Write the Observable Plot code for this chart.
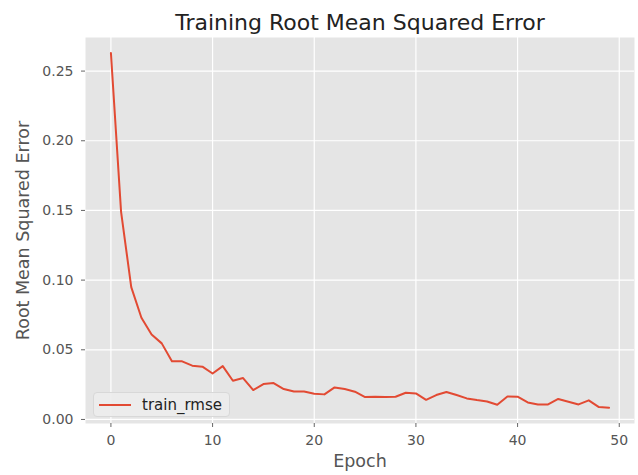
<!DOCTYPE html>
<html>
<head>
<meta charset="utf-8">
<script src="https://cdn.jsdelivr.net/npm/d3@7"></script>
<script src="https://cdn.jsdelivr.net/npm/@observablehq/plot@0.6"></script>
<style>
  html, body { margin: 0; padding: 0; background: #fff; }
  #wrap { position: relative; width: 638px; height: 475px; font-family: "DejaVu Sans", sans-serif; }
  #legend { position: absolute; left: 93px; top: 392px; width: 137px; height: 25px;
    background: rgba(236,236,236,0.9); border: 1px solid #d8d8d8; border-radius: 4px;
    box-sizing: border-box; display: flex; align-items: center; }
  #legend svg { margin-left: 5px; }
  #legend span { margin-left: 11px; font-size: 15px; color: #222; }
</style>
</head>
<body>
<div id="wrap"></div>
<script>
const title = "Training Root Mean Squared Error";
const xLabel = "Epoch";
const yLabel = "Root Mean Squared Error";
const seriesName = "train_rmse";
const epochs = d3.range(50);
const trainRmse = [
  0.263, 0.149, 0.095, 0.073, 0.061, 0.0546, 0.0417, 0.0417, 0.0386, 0.0379,
  0.033, 0.0383, 0.0278, 0.0297, 0.0211, 0.0254, 0.0261, 0.0218, 0.0201, 0.0201,
  0.0184, 0.018, 0.023, 0.0218, 0.0199, 0.0161, 0.0163, 0.0161, 0.0163, 0.0192,
  0.0187, 0.0141, 0.0175, 0.0197, 0.0175, 0.0151, 0.0139, 0.0129, 0.0106, 0.0165,
  0.0163, 0.0122, 0.0108, 0.0108, 0.0147, 0.0127, 0.0108, 0.0137, 0.0089, 0.0084
];
const xTicks = [0, 10, 20, 30, 40, 50];
const yTicks = [0.00, 0.05, 0.10, 0.15, 0.20, 0.25];

const data = epochs.map((e, i) => ({epoch: e, rmse: trainRmse[i]}));

const chart = Plot.plot({
  width: 638,
  height: 475,
  marginLeft: 85,
  marginRight: 4,
  marginTop: 37,
  marginBottom: 52,
  style: {fontFamily: "DejaVu Sans, sans-serif", background: "#fff", color: "#555", fontSize: "14px"},
  x: {domain: [-2.5, 51.5], ticks: xTicks, tickFormat: d3.format("d")},
  y: {domain: [-0.0029, 0.2741], ticks: yTicks, tickFormat: d3.format(".2f")},
  marks: [
    Plot.frame({fill: "#e5e5e5", stroke: null}),
    Plot.gridX(xTicks, {stroke: "#fff", strokeOpacity: 1, strokeWidth: 1.2}),
    Plot.gridY(yTicks, {stroke: "#fff", strokeOpacity: 1, strokeWidth: 1.2}),
    Plot.axisX(xTicks, {tickSize: 4, tickPadding: 8, stroke: "#666", fill: "#555", fontSize: 14, label: null}),
    Plot.axisY(yTicks, {tickSize: 4, tickPadding: 8, stroke: "#666", fill: "#555", fontSize: 14, label: null, tickFormat: d3.format(".2f")}),
    Plot.line(data, {x: "epoch", y: "rmse", stroke: "#E24A33", strokeWidth: 2}),
    Plot.text([title], {frameAnchor: "top", dy: -8, lineAnchor: "bottom", fontSize: 22, fill: "#222"}),
    Plot.text([xLabel], {frameAnchor: "bottom", dy: 43, lineAnchor: "bottom", fontSize: 17.5, fill: "#555"}),
    Plot.text([yLabel], {frameAnchor: "left", dx: -62.5, rotate: -90, textAnchor: "middle", lineAnchor: "middle", fontSize: 17.5, fill: "#555"})
  ]
});

const wrap = document.getElementById("wrap");
wrap.appendChild(chart);
const legend = document.createElement("div");
legend.id = "legend";
legend.innerHTML = `<svg width="32" height="4"><line x1="0" x2="32" y1="2" y2="2" stroke="#E24A33" stroke-width="2"/></svg><span>${seriesName}</span>`;
wrap.appendChild(legend);
</script>
</body>
</html>
